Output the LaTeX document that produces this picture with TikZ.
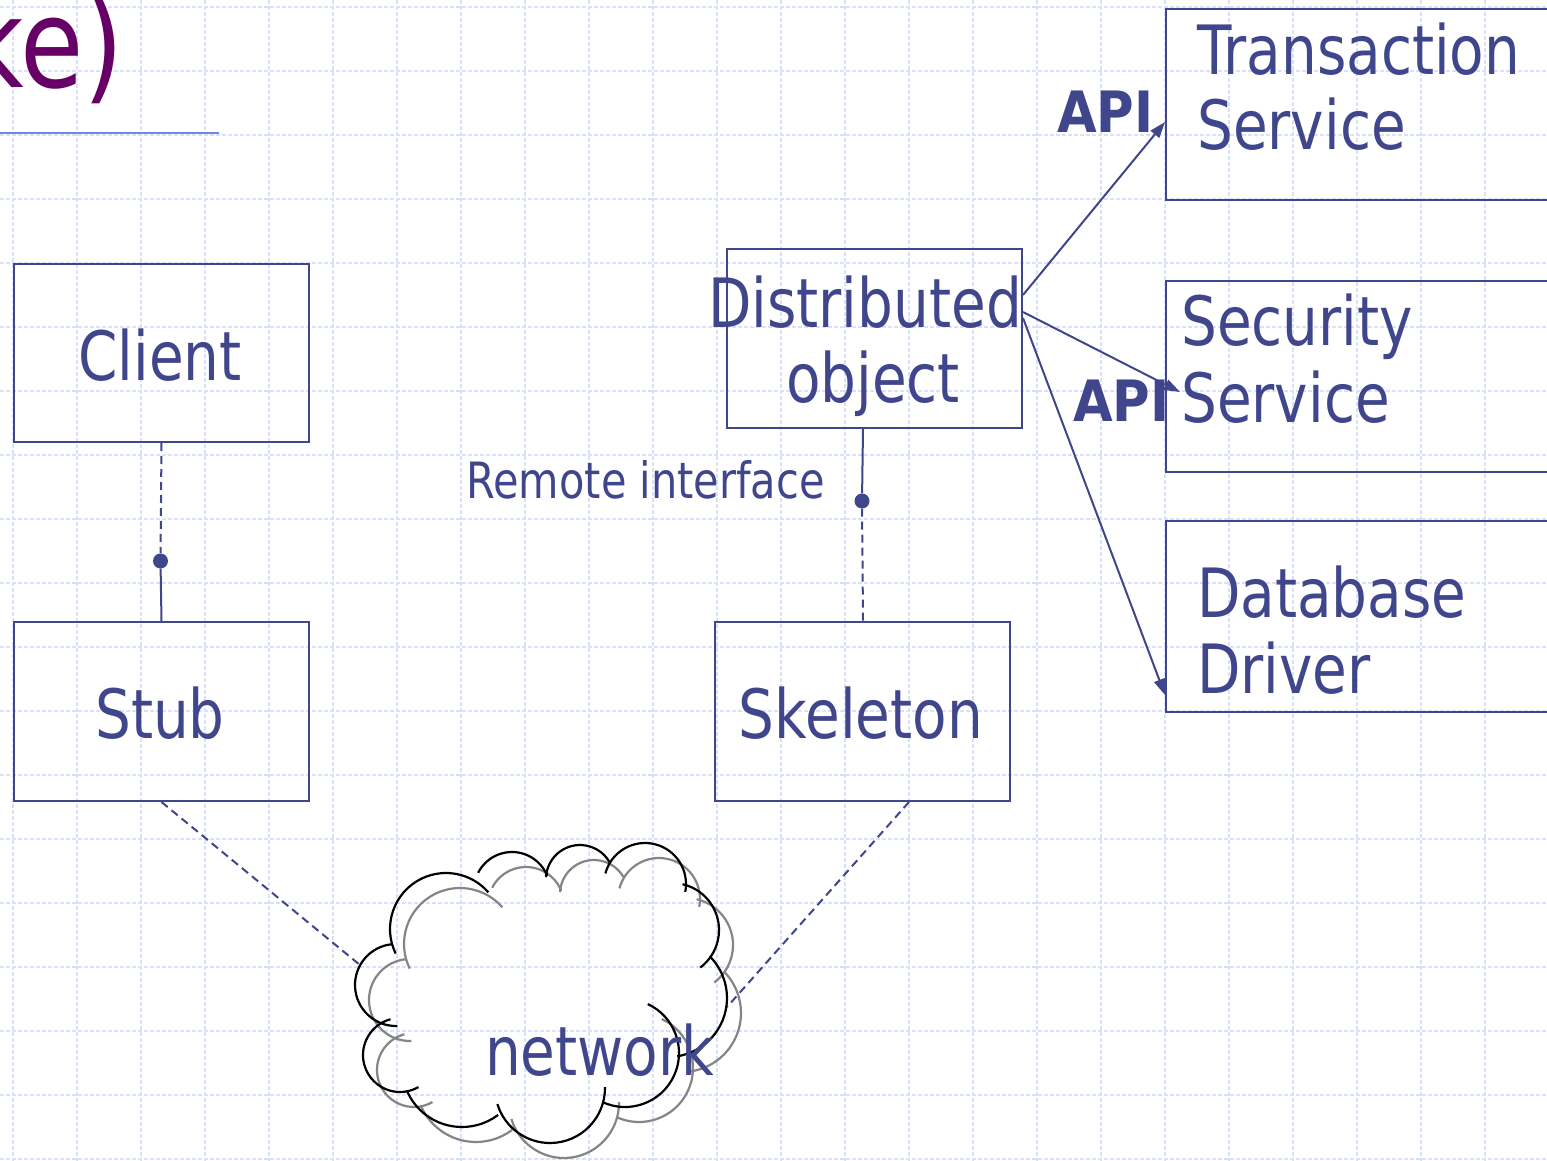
\documentclass[tikz,border=0pt]{standalone}
\usepackage{fontspec}
\setmainfont{DejaVu Sans}[FakeStretch=0.83]
\newfontfamily\apifont{DejaVu Sans}[FakeStretch=0.9]
\usetikzlibrary{arrows.meta}
\definecolor{ink}{RGB}{64,70,140}
\definecolor{gridc}{RGB}{216,224,250}
\definecolor{titlec}{RGB}{102,0,102}
\definecolor{rulec}{RGB}{112,136,238}
\newcommand\puff[4]{\draw (#1) ++(#3:#2) arc[start angle=#3, end angle=#4, radius=#2];}
\newcommand\mycloud{%
 \puff{446,929}{56}{154}{319}
 \puff{512,890}{38}{207}{338}
 \puff{580,879}{34}{183}{330}
 \puff{645,884}{41}{195}{371}
 \puff{672,930}{47}{283}{413}
 \puff{668,998}{59}{315}{441}
 \puff{625,1053}{54}{295}{475}
 \puff{550,1088}{55}{-1}{163}
 \puff{462,1067}{60}{157}{53}
 \puff{400,1055}{37}{255}{60}
 \puff{396,985}{41}{88}{264}
}
\begin{document}
\begin{tikzpicture}[x=1pt,y=-1pt,
  gridline/.style={draw=gridc, line width=1.3pt, dash pattern=on 4pt off 2pt},
  box/.style={draw=ink, line width=2pt, anchor=north west, inner sep=0pt},
  lbl/.style={text=ink, font=\fontsize{68}{76}\selectfont, inner sep=0pt},
  small/.style={text=ink, font=\fontsize{50}{56}\selectfont, inner sep=0pt},
  apilbl/.style={text=ink, font=\apifont\fontsize{57}{60}\selectfont\bfseries, inner sep=0pt},
  conn/.style={draw=ink, line width=2pt},
  dashline/.style={conn, dash pattern=on 8pt off 5pt},
  arr/.style={conn, -{Triangle[length=16pt,width=11pt]}},
  dotn/.style={circle, fill=ink, minimum size=15pt, inner sep=0pt},
  cloudline/.style={line width=2.2pt}]
\clip (0,0) rectangle (1547,1161);
\fill[white] (0,0) rectangle (1547,1161);
% grid
\foreach \gx in {13,77,...,1549} \draw[gridline] (\gx,0) -- (\gx,1161);
\foreach \gy in {7,71,...,1161} \draw[gridline] (0,\gy) -- (1547,\gy);
% title fragment
\node[text=titlec, font=\fontsize{124}{130}\selectfont, inner sep=0pt, anchor=base east] (title) at (124,88) {ke)};
\draw[draw=rulec, line width=2pt] (0,133) -- (219,133);
% boxes
\node[box, minimum width=295pt, minimum height=178pt] (client) at (13,263) {};
\node[box, minimum width=295pt, minimum height=179pt] (stub) at (13,621) {};
\node[box, minimum width=295pt, minimum height=179pt] (dist) at (726,248) {};
\node[box, minimum width=295pt, minimum height=179pt] (skel) at (714,621) {};
\node[box, minimum width=420pt, minimum height=191pt] (trans) at (1165,8) {};
\node[box, minimum width=420pt, minimum height=191pt] (sec) at (1165,280) {};
\node[box, minimum width=420pt, minimum height=191pt] (db) at (1165,520) {};
% texts
\node[lbl, anchor=base] (clientT) at (160,380) {Client};
\node[lbl, anchor=base] (stubT) at (160,738) {Stub};
\node[lbl, anchor=base] (distT1) at (865,327) {Distributed};
\node[lbl, anchor=base] (distT2) at (873,402) {object};
\node[lbl, anchor=base] (skelT) at (861,738) {Skeleton};
\node[lbl, anchor=base west] (transT1) at (1197,75) {Transaction};
\node[lbl, anchor=base west] (transT2) at (1197,150) {Service};
\node[lbl, anchor=base west] (secT1) at (1181,345) {Security};
\node[lbl, anchor=base west] (secT2) at (1181,422) {Service};
\node[lbl, anchor=base west] (dbT1) at (1197,617) {Database};
\node[lbl, anchor=base west] (dbT2) at (1197,693) {Driver};
\node[small, anchor=base east] (remT) at (825,498) {Remote interface};
\node[apilbl, anchor=base west] (api1) at (1057,133) {API};
\node[apilbl, anchor=base west] (api2) at (1073,421) {API};
% interface dots
\node[dotn] (dot1) at (160.5,561) {};
\node[dotn] (dot2) at (862,501) {};
\draw[dashline] (client.south) -- (dot1);
\draw[conn] (dot1) -- (stub.north);
\draw[conn] ([xshift=-11.5pt]dist.south) -- (dot2);
\draw[dashline] (dot2) -- ([xshift=0.5pt]skel.north);
% API arrows
\draw[arr] ([yshift=-47pt]dist.north east) -- ([yshift=-114pt]trans.north west);
\draw[arr] ([yshift=-64pt]dist.north east) -- ([xshift=15pt,yshift=-112pt]sec.north west);
\draw[arr] ([yshift=-70pt]dist.north east) -- ([yshift=-175pt]db.north west);
% network
\coordinate (netL) at (360,965);
\coordinate (netR) at (727,1007);
\draw[dashline] (stub.south) -- (netL);
\draw[dashline] ([xshift=46.5pt]skel.south) -- (netR);
\begin{scope}[shift={(14,15)}, draw=black!48, cloudline]
\mycloud
\end{scope}
\begin{scope}[draw=black, cloudline]
\mycloud
\end{scope}
\node[lbl, anchor=base west] (netT) at (485,1075) {network};
\end{tikzpicture}
\end{document}
